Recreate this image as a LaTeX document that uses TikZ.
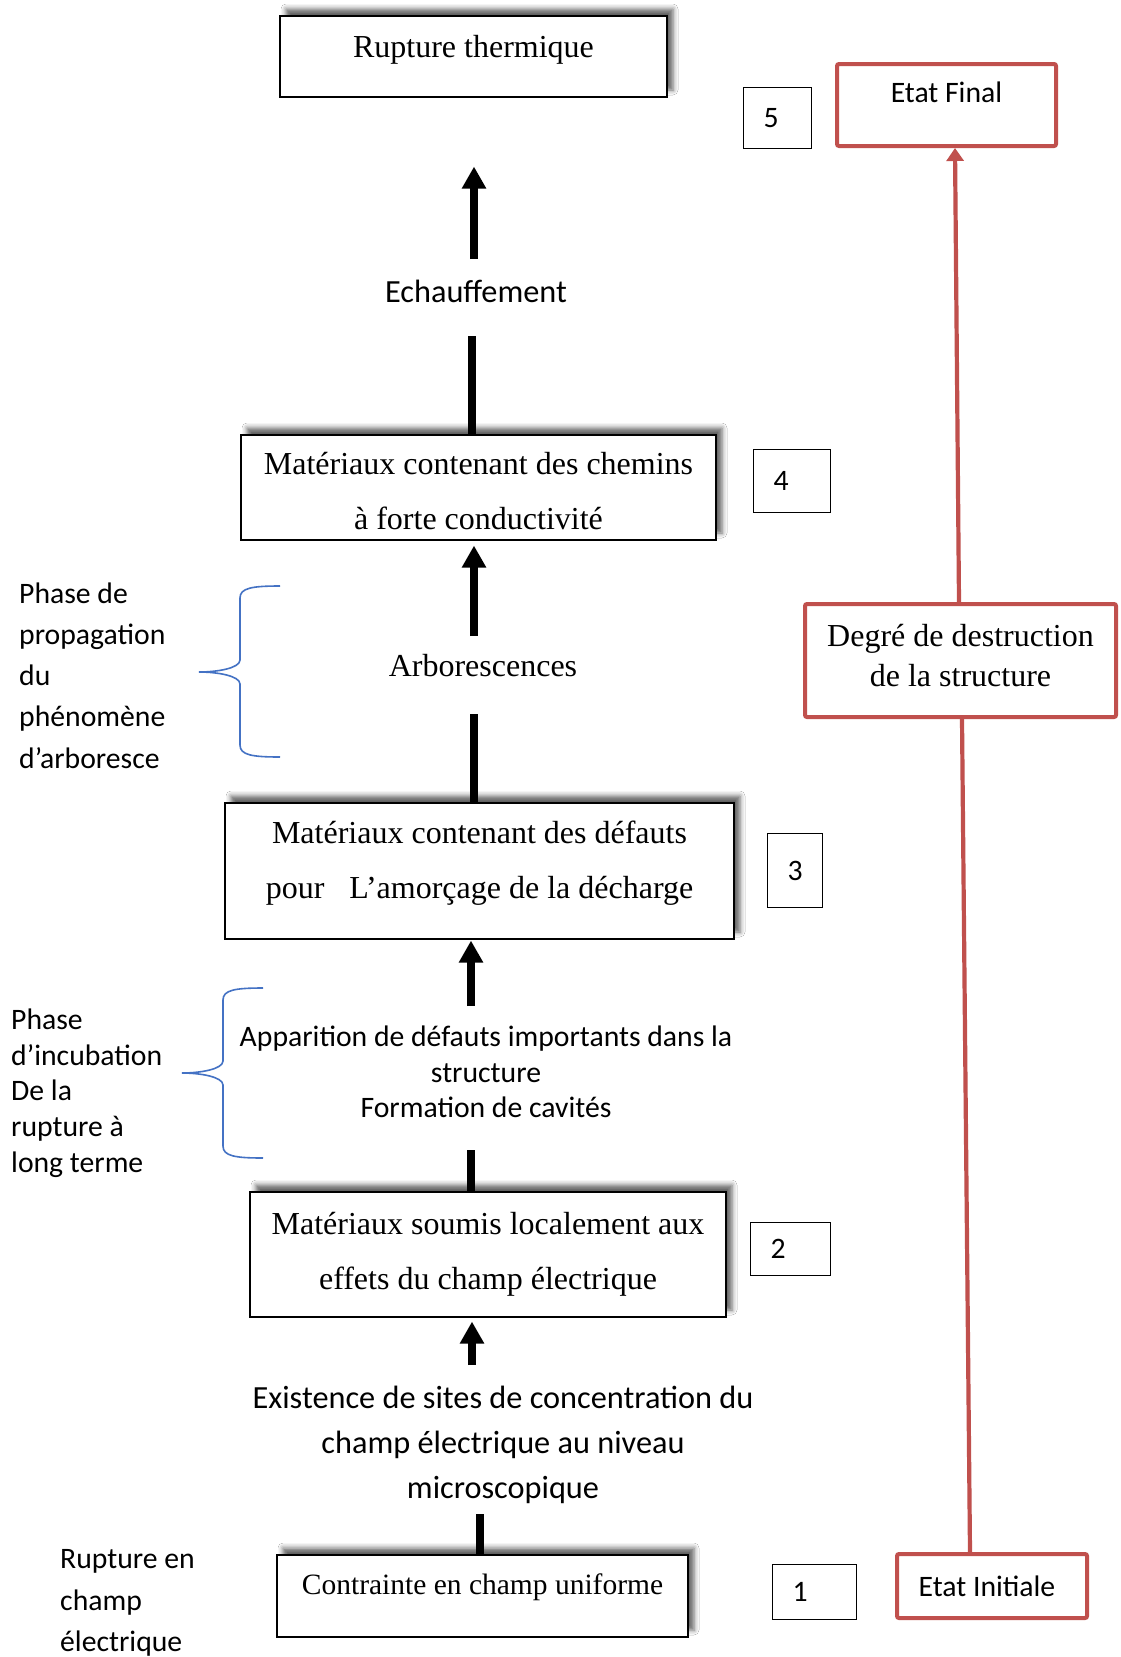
\documentclass[tikz,border=0pt]{standalone}
\usepackage{fontspec}
\setmainfont{Liberation Serif}
\newfontfamily\carl{Carlito}
\usetikzlibrary{arrows.meta,shadows.blur}
\definecolor{offred}{HTML}{C0504D}
\definecolor{offblue}{HTML}{4472C4}
\begin{document}
\begin{tikzpicture}[x=1pt,y=-1pt,
  serifbig/.style={font=\fontsize{32}{55}\selectfont},
  mainbox/.style={draw=black, line width=1.1pt, fill=white, align=center, inner sep=0pt,
    blur shadow={shadow xshift=6pt, shadow yshift=7pt, shadow blur radius=5pt, shadow opacity=62}},
  redbox/.style={draw=offred, line width=4pt, rounded corners=2pt, fill=white, align=center, inner sep=0pt,
    font=\carl\fontsize{29.7}{34}\selectfont},
  numbox/.style={draw=black, line width=1pt, align=left, inner xsep=20pt, inner ysep=0pt, anchor=north west,
    font=\carl\fontsize{29.7}{34}\selectfont},
  sanslbl/.style={font=\carl\fontsize{29.7}{35.5}\selectfont, align=center, inner sep=0pt},
  leftlbl/.style={align=left, inner sep=0pt, anchor=west},
  bigarrow/.style={line width=8.5pt, -{Triangle[width=23pt,length=22pt]}},
  bigline/.style={line width=8.5pt},
  brace/.style={draw=offblue, line width=1.6pt},
  redline/.style={draw=offred, line width=4.2pt}
]
\useasboundingbox (0,0) rectangle (1120,1657);
\fill[white] (0,0) rectangle (1120,1657);

% main boxes
\node[mainbox, serifbig, minimum width=387pt, minimum height=81pt, text height=22pt, text depth=20pt] (rt) at (473.5,56.5) {Rupture thermique};
\node[mainbox, serifbig, minimum width=475pt, minimum height=105pt] (b4) at (478.5,487.5)
  {\raisebox{0pt}[\dimexpr\height-2pt\relax][\dimexpr\depth-8pt\relax]{\begin{tabular}{@{}c@{}}Matériaux contenant des chemins\\à forte conductivité\end{tabular}}};
\node[mainbox, serifbig, minimum width=509pt, minimum height=136pt] (b3) at (479.5,871)
  {\raisebox{0pt}[\height][\dimexpr\depth+23pt\relax]{\begin{tabular}{@{}c@{}}Matériaux contenant des défauts\\pour\hspace{25pt}L’amorçage de la décharge\end{tabular}}};
\node[mainbox, serifbig, minimum width=476pt, minimum height=125pt] (b2) at (488,1254.5) {Matériaux soumis localement aux\\effets du champ électrique};
\node[mainbox, font=\fontsize{29.5}{40}\selectfont, minimum width=411pt, minimum height=82pt, text height=20pt, text depth=24pt] (b1) at (482.5,1596) {Contrainte en champ uniforme};

% number boxes
\node[numbox, minimum width=68pt, text width=28pt, minimum height=61pt] (n5) at (743,87) {5};
\node[numbox, minimum width=77pt, text width=37pt, minimum height=63pt] (n4) at (753,449) {4};
\node[numbox, minimum width=55pt, text width=15pt, minimum height=74pt] (n3) at (767,833) {3};
\node[numbox, minimum width=80pt, text width=40pt, minimum height=53pt] (n2) at (750,1222) {2};
\node[numbox, minimum width=84pt, text width=44pt, minimum height=55pt] (n1) at (772,1564) {1};

% red boxes
\node[redbox, minimum width=219pt, minimum height=82pt, text height=19pt, text depth=25pt] (ef) at (946.5,105) {Etat Final};
\node[redbox, font=\fontsize{32}{40}\selectfont, minimum width=311pt, minimum height=113pt] (dg) at (960.5,660.5)
  {\raisebox{0pt}[\height][\dimexpr\depth+4pt\relax]{\begin{tabular}{@{}c@{}}Degré de destruction\\de la structure\end{tabular}}};
\node[redbox, minimum width=190pt, minimum height=64pt] (ei) at (992,1586) {\hspace*{-10pt}Etat Initiale};

% intermediate labels
\node[sanslbl, font=\carl\fontsize{32.3}{40}\selectfont] (echauff) at (476,291) {Echauffement};
\node[inner sep=0pt, font=\fontsize{32}{40}\selectfont] (arbo) at (483,666) {Arborescences};
\node[sanslbl] (appar) at (486,1072) {Apparition de défauts importants dans la\\structure\\Formation de cavités};
\node[sanslbl, font=\carl\fontsize{32.3}{45}\selectfont] (exist) at (503,1445) {Existence de sites de concentration du\\champ électrique au niveau\\microscopique};

% left labels
\node[leftlbl, font=\carl\fontsize{29.7}{41.2}\selectfont] (ph1) at (19,675.5) {Phase de\\propagation\\du\\phénomène\\d’arboresce};
\node[leftlbl, font=\carl\fontsize{29.7}{35.75}\selectfont] (ph2) at (11,1093) {Phase\\d’incubation\\De la\\rupture à\\long terme};
\node[leftlbl, font=\carl\fontsize{29.7}{41.5}\selectfont] (ph3) at (60,1603) {Rupture en\\champ\\électrique};

% braces
\draw[brace] (280,586) .. controls (252,586) and (240,588) .. (240,598) -- (240,660)
  .. controls (240,668) and (218,672) .. (199,672)
  .. controls (218,672) and (240,676) .. (240,684) -- (240,745)
  .. controls (240,755) and (252,757) .. (280,757);
\draw[brace] (263,988) .. controls (235,988) and (223,990) .. (223,1000) -- (223,1061)
  .. controls (223,1069) and (201,1073) .. (182,1073)
  .. controls (201,1073) and (223,1077) .. (223,1085) -- (223,1146)
  .. controls (223,1156) and (235,1158) .. (263,1158);

% axis coordinates
\coordinate (x471) at (471,0);
\coordinate (x472) at (472,0);
\coordinate (x474) at (474,0);
\coordinate (x480) at (480,0);

% black connectors
\draw[bigarrow, shorten <=32pt, shorten >=69pt] (x474 |- echauff.center) -- (x474 |- rt.south);
\draw[bigline, shorten <=45pt] (x472 |- echauff.center) -- (x472 |- b4.north);
\draw[bigarrow, shorten <=30pt, shorten >=5pt] (x474 |- arbo.center) -- (x474 |- b4.south);
\draw[bigline, shorten <=48pt] (x474 |- arbo.center) -- (x474 |- b3.north);
\draw[bigarrow, shorten <=66pt, shorten >=1pt] (x471 |- appar.center) -- (x471 |- b3.south);
\draw[bigline, shorten <=78pt] (x471 |- appar.center) -- (x471 |- b2.north);
\draw[bigarrow, shorten <=80pt, shorten >=4pt] (x472 |- exist.center) -- (x472 |- b2.south);
\draw[bigline, shorten <=69pt] (x480 |- exist.center) -- (x480 |- b1.north);

% red connectors
\draw[redline] ([xshift=-22pt]ei.north) -- ([xshift=1.5pt]dg.south);
\draw[redline, -{Triangle[width=17pt,length=13pt]}] ([xshift=-1.5pt]dg.north) -- ([xshift=8.5pt]ef.south);
\end{tikzpicture}
\end{document}
